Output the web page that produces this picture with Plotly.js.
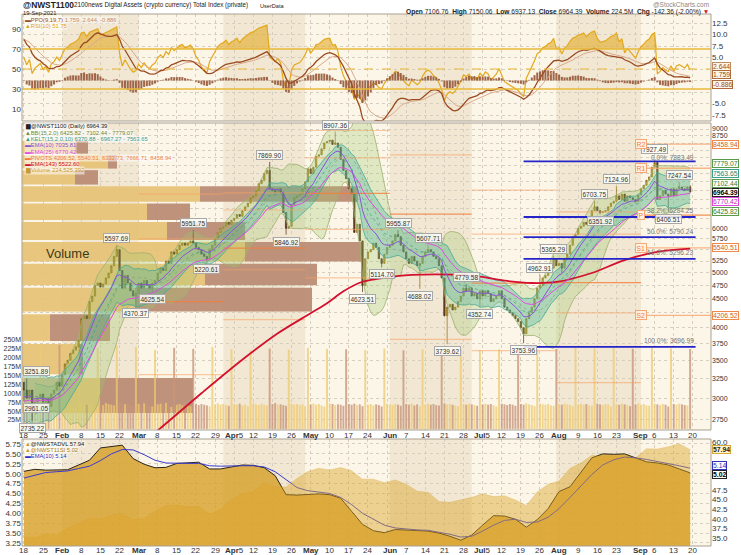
<!DOCTYPE html>
<html><head><meta charset="utf-8">
<script src="https://cdn.plot.ly/plotly-3.0.1.min.js"></script>
<style>html,body{margin:0;padding:0;background:#fff;}#chart{width:741px;height:555px;}</style>
</head><body><div id="chart"></div>
<script>
// ================= DATA =================
const firstDay = '2021-01-18';
const firstOpen = 3200;
const closeJan = [3100,3000,3100,2850,2950,3000,3050,2950,3000,2900,3050,3100,3200,3150];
const closeFeb = [3300,3450,3500,3600,3650,3700,3800,4150,4200,4150,4450,4550,4750,4800,4720,4780,4900,5000,5150,5350,5500,5050,4700,4950,4800,4650,4550,4600];
const closeMar = [4800,4700,4850,4750,4700,4800,4850,5000,5100,5050,5250,5200,5450,5400,5500,5600,5650,5600,5650,5700,5650,5550,5500,5400,5350,5300,5500,5600,5750,5900,6000];
const closeApr = [6050,6150,6100,6200,6250,6350,6300,6450,6550,6650,6800,6850,7000,7200,7300,7500,7600,7050,7000,6950,7050,6950,6400,6000,6050,6600,6800,6850,6900,7050];
const closeMay = [7250,7650,7500,7700,8050,8100,8300,8500,8550,8600,8450,8500,8350,7950,7600,7350,7050,6900,5900,6100,5700,4750,5300,5450,5500,5650,5550,5300,5200,5400,5550];
const closeJun = [5600,5700,5850,5800,5600,5450,5300,5200,5350,5250,5150,5200,5350,5450,5500,5450,5350,5300,5150,4900,4200,4350,4400,4300,4350,4450,4550,4700,4650,4700];
const closeJul = [4550,4600,4500,4650,4550,4650,4600,4450,4500,4550,4650,4500,4350,4300,4250,4200,4150,4100,4000,3900,4150,4250,4350,4500,4700,4750,4900,4950,5050,5100,5300];
const closeAug = [5150,5200,5100,5300,5400,5600,5800,5850,6000,6050,6150,6100,6300,6450,6550,6450,6400,6420,6450,6550,6650,6700,6850,6750,6900,6700,6850,6800,6750,6700,6874.48];
const closeSep = [7050,7150,7300,7400,7700,7850,6750,6850,7000,6900,6850,7050,6850,7050,7100,7050,7000,7106.76,6964.39];

// daily volume in millions (Mon..Sun rows)
const volumeM = [
 68,72,70,75,66,64,232, 70,66,74,69,71,63,236, 72,68,75,70,66,62,228, 74,70,68,73,69,65,226,
 71,67,73,70,68,66,234, 75,72,69,71,67,64,230, 70,66,72,68,65,63,222, 69,71,67,73,66,62,228,
 68,70,66,72,69,64,225, 71,67,70,68,66,63,230, 69,72,68,70,67,65,224, 70,68,71,66,69,64,221,
 72,69,67,71,68,66,226, 70,73,68,69,67,65,223, 71,68,70,67,69,64,228, 69,71,68,70,66,63,225,
 72,70,67,69,68,65,224, 70,68,71,67,69,64,222, 68,70,66,69,67,63,226, 71,69,67,70,68,65,221,
 70,68,71,66,69,64,224, 69,71,68,70,67,66,223, 72,69,70,68,66,64,225, 70,68,71,69,67,65,222,
 69,71,68,70,66,63,224, 71,69,67,70,68,65,226, 70,68,72,69,67,64,223, 71,69,68,70,66,65,225,
 70,68,71,69,67,64,228, 69,71,68,70,66,65,226, 71,69,67,70,68,63,227, 70,68,71,69,67,64,225,
 69,71,68,70,66,65,228, 71,69,67,70,68,63,226, 70,68,71,69,67,66,224.525392];

// labelled swing highs / lows
const hiDates = ['2021-01-19','2021-02-21','2021-03-21','2021-04-18','2021-05-12','2021-06-04','2021-06-15','2021-06-29','2021-07-26','2021-07-31','2021-08-15','2021-08-23','2021-09-06','2021-09-15'];
const hiVals  = [3251.89,5597.69,5951.75,7869.90,8907.36,5955.87,5607.71,4779.58,4962.91,5365.29,6703.75,7124.96,7927.49,7247.54];
const loDates = ['2021-01-18','2021-01-21','2021-02-28','2021-03-06','2021-03-26','2021-04-24','2021-05-22','2021-05-29','2021-06-12','2021-06-22','2021-07-04','2021-07-20','2021-08-17','2021-09-11'];
const loVals  = [2961.05,2735.22,4370.37,4625.54,5220.61,5846.92,4623.51,5114.70,4688.02,3739.62,4352.74,3753.96,6351.92,6406.51];
// unlabelled wick extremes
const wickHiDates = ['2021-09-19'];  const wickHiVals = [7150.06];
const wickLoDates = ['2021-08-03','2021-09-19']; const wickLoVals = [4998.75,6937.13];

// EMA(143)
const ema143Dates = ['2021-03-01','2021-03-08','2021-03-24','2021-04-09','2021-04-21','2021-05-03','2021-05-09','2021-05-15','2021-05-22','2021-05-28','2021-06-09','2021-06-25','2021-07-04','2021-07-14','2021-07-23','2021-08-01','2021-08-14','2021-08-26','2021-09-07','2021-09-19'];
const ema143Vals  = [2480,2630,3060,3540,3909,4242,4419,4640,4824,4885,4960,4965,4925,4840,4800,4820,5000,5270,5450,5522.60];

// Fibonacci retracement
const fibNames  = ['100.0%','61.8%','50.0%','38.2%','0.0%'];
const fibLevels = [3696.99,5296.23,5790.24,6284.25,7883.49];
const fibFrom = '2021-07-20', fibTo = '2021-09-21';

// volume-by-price zones (price edges) and up/down volume per zone (relative units)
const vbpEdges = [2800,3283,3767,4250,4733,5217,5700,6183,6667,7150,7633,8117,8600];
const vbpUp    = [78,56,28,113,183,223,145,125,178,53,86,53];
const vbpDown  = [93,5,60,177,112,117,78,43,158,23,9,13];

// indicator seeds (state before first visible bar)
const ppoFastSeed = 3017, ppoSlowSeed = 2750, ppoSignalSeed = 9.0;
const rsiGainSeed = 60, rsiLossSeed = 27;
const ema10Seed = 3000, ema25Seed = 2950, kelMidSeed = 3050, atrSeed = 150;

// lower panel, every 4th day from Jan 18
const advl  = [35.4,35.2,36.2,35.8,37.6,38.8,40.2,39.9,41.0,41.5,39.8,40.2,42.0,43.5,43.6,43.2,43.2,41.2,42.5,45.0,46.6,47.0,49.4,48.3,48.3,50.5,52.3,53.1,52.7,53.3,52.5,50.3,50.3,49.4,50.1,49.0,47.2,46.9,44.5,44.3,44.9,45.6,46.5,45.8,46.0,44.9,43.5,47.0,49.0,49.8,53.1,54.5,56.5,56.2,56.2,56.3,55.8,58.2,58.1,58.7,59.5,57.94];
const si11  = [5.06,5.11,5.09,5.09,5.10,5.22,5.34,5.65,5.68,5.72,5.38,5.24,5.15,5.16,5.26,5.27,5.29,5.12,5.12,5.17,5.22,5.21,5.15,4.95,4.47,4.46,4.48,4.49,4.47,4.38,4.05,3.72,3.56,3.51,3.59,3.58,3.56,3.55,3.50,3.42,3.32,3.45,3.70,3.94,3.93,3.85,3.65,3.84,4.12,4.55,4.67,5.05,5.40,5.50,5.49,5.50,5.40,5.30,5.27,5.22,5.12,5.02];
const siEma = [4.89,4.96,5.03,5.05,5.07,5.13,5.19,5.33,5.50,5.61,5.60,5.48,5.34,5.27,5.26,5.26,5.26,5.20,5.19,5.20,5.20,5.20,5.17,5.05,4.85,4.65,4.57,4.53,4.50,4.40,4.22,4.00,3.85,3.70,3.63,3.60,3.58,3.57,3.52,3.47,3.40,3.42,3.55,3.70,3.82,3.85,3.77,3.78,3.90,4.12,4.40,4.68,4.98,5.22,5.35,5.42,5.40,5.36,5.31,5.25,5.20,5.14];

// x tick labels
const tickDates  = ['2021-01-18','2021-01-25','2021-02-01','2021-02-08','2021-02-15','2021-02-22','2021-03-01','2021-03-08','2021-03-15','2021-03-22','2021-03-29','2021-04-05','2021-04-12','2021-04-19','2021-04-26','2021-05-03','2021-05-10','2021-05-17','2021-05-24','2021-06-01','2021-06-07','2021-06-14','2021-06-21','2021-06-28','2021-07-05','2021-07-12','2021-07-19','2021-07-26','2021-08-02','2021-08-09','2021-08-16','2021-08-23','2021-09-01','2021-09-06','2021-09-13','2021-09-20'];
const tickLabels = ['18','25','<b>Feb</b>','8','15','22','<b>Mar</b>','8','15','22','29','<b>Apr</b>5','12','19','26','<b>May</b>','10','17','24','<b>Jun</b>','7','14','21','28','<b>Jul</b>5','12','19','26','<b>Aug</b>','9','16','23','<b>Sep</b>','6','13','20'];

// ================= COMPUTATION =================
const F = 'Liberation Sans, Arial, sans-serif';
const DAY = 86400000;
const t0 = Date.parse(firstDay + 'T00:00:00Z');
const dayStr = i => new Date(t0 + i * DAY).toISOString().slice(0, 10);
const closes = [].concat(closeJan, closeFeb, closeMar, closeApr, closeMay, closeJun, closeJul, closeAug, closeSep);
const n = closes.length;
const dates = closes.map((_, i) => dayStr(i));
const opens = closes.map((c, i) => i === 0 ? firstOpen : closes[i - 1]);
const highs = closes.map((c, i) => Math.max(c, opens[i]));
const lows = closes.map((c, i) => Math.min(c, opens[i]));
[[hiDates, hiVals], [wickHiDates, wickHiVals]].forEach(([ds, vs]) => ds.forEach((d, k) => { const i = dates.indexOf(d); if (i >= 0) highs[i] = Math.max(highs[i], vs[k]); }));
[[loDates, loVals], [wickLoDates, wickLoVals]].forEach(([ds, vs]) => ds.forEach((d, k) => { const i = dates.indexOf(d); if (i >= 0) lows[i] = Math.min(lows[i], vs[k]); }));

function ema(arr, p, seed) { const k = 2 / (p + 1); let e = seed; return arr.map(v => (e = e + k * (v - e))); }
const ema10 = ema(closes, 10, ema10Seed);
const ema25 = ema(closes, 25, ema25Seed);

const bbX = [], bbU = [], bbM = [], bbL = [];
for (let i = 4; i < n; i++) {
  const w = closes.slice(Math.max(0, i - 14), i + 1);
  const m = w.reduce((a, b) => a + b, 0) / w.length;
  const sd = Math.sqrt(w.reduce((a, b) => a + (b - m) * (b - m), 0) / w.length);
  bbX.push(dates[i]); bbM.push(m); bbU.push(m + 2 * sd); bbL.push(m - 2 * sd);
}
const kM = ema(closes, 15, kelMidSeed);
let atr = atrSeed; const kU = [], kL = [];
closes.forEach((c, i) => {
  const pc = i ? closes[i - 1] : firstOpen;
  const tr = Math.max(highs[i] - lows[i], Math.abs(highs[i] - pc), Math.abs(lows[i] - pc));
  atr = (atr * 9 + tr) / 10; kU.push(kM[i] + 2 * atr); kL.push(kM[i] - 2 * atr);
});
const fast = ema(closes, 9, ppoFastSeed), slow = ema(closes, 19, ppoSlowSeed);
const ppo = fast.map((f, i) => 100 * (f - slow[i]) / slow[i]);
const sig = ema(ppo, 7, ppoSignalSeed);
const hist = ppo.map((p, i) => p - sig[i]);
let ag = rsiGainSeed, al = rsiLossSeed;
const rsi = closes.map((c, i) => { const ch = c - (i ? closes[i - 1] : firstOpen); ag = (ag * 9 + Math.max(ch, 0)) / 10; al = (al * 9 + Math.max(-ch, 0)) / 10; return 100 - 100 / (1 + ag / al); });

const xStart = '2021-01-17 06:30', xEnd = '2021-09-26 15:30';
const months = ['2021-02','2021-03','2021-04','2021-05','2021-06','2021-07','2021-08','2021-09'];
const piv = { R2: [], R1: [], P: [], S1: [], S2: [] }, pivX = [];
const curPiv = {};
for (let m = 1; m < months.length; m++) {
  const idx = dates.map((d, i) => d.startsWith(months[m - 1]) ? i : -1).filter(i => i >= 0);
  const H = Math.max(...idx.map(i => highs[i])), L = Math.min(...idx.map(i => lows[i])), C = closes[idx[idx.length - 1]];
  const P = (H + L + C) / 3;
  const lv = { R2: P + (H - L), R1: 2 * P - L, P: P, S1: 2 * P - H, S2: P - (H - L) };
  const x0 = months[m] + '-01', x1 = m + 1 < months.length ? months[m + 1] + '-01' : xEnd;
  if (m === months.length - 1) { Object.assign(curPiv, lv); curPiv.x0 = x0; curPiv.x1 = x1; }
  else { pivX.push(x0, x1, null); Object.keys(piv).forEach(k => piv[k].push(lv[k], lv[k], null)); }
}

const LOGLO = Math.log10(2634), LOGHI = Math.log10(9223);
const ppy = py => 1 - py / 555;
const ppx = px => (px - 22) / 689;
const xs = Date.parse('2021-01-17T06:30:00Z'), xe = Date.parse('2021-09-26T15:30:00Z');
const msPerUnit = (xe - xs) / 689;

// ================= TRACES =================
const traces = [];
const rsiTop = rsi.map(v => Math.max(v, 70));
traces.push({ x: dates, y: dates.map(() => 70), xaxis: 'x', yaxis: 'y', mode: 'lines', line: { width: 0 }, hoverinfo: 'skip' });
traces.push({ x: dates, y: rsiTop, xaxis: 'x', yaxis: 'y', mode: 'lines', line: { width: 0 }, fill: 'tonexty', fillcolor: 'rgba(226,172,40,0.6)', hoverinfo: 'skip' });
traces.push({ x: dates, y: rsi, xaxis: 'x', yaxis: 'y', mode: 'lines', line: { color: '#e3a81c', width: 1.2 } });
traces.push({ type: 'bar', x: dates, y: hist, xaxis: 'x', yaxis: 'y2', marker: { color: 'rgba(150,88,58,0.9)', line: { width: 0 } }, width: DAY * 0.75 });
traces.push({ x: dates, y: sig, xaxis: 'x', yaxis: 'y2', mode: 'lines', line: { color: '#d9a98c', width: 1 } });
traces.push({ x: dates, y: ppo, xaxis: 'x', yaxis: 'y2', mode: 'lines', line: { color: '#9b4a20', width: 1.3 } });

const vbpY = vbpUp.map((_, k) => (Math.log10(vbpEdges[k]) + Math.log10(vbpEdges[k + 1])) / 2);
const vbpW = vbpUp.map((_, k) => (Math.log10(vbpEdges[k + 1]) - Math.log10(vbpEdges[k])) * 0.9);
traces.push({ type: 'bar', orientation: 'h', y: vbpY, width: vbpW, x: vbpUp.map(v => v * msPerUnit), base: vbpUp.map(() => xs), xaxis: 'x2', yaxis: 'y3', marker: { color: '#e8c479', line: { width: 0 } }, opacity: 0.95 });
traces.push({ type: 'bar', orientation: 'h', y: vbpY, width: vbpW, x: vbpDown.map(v => v * msPerUnit), base: vbpUp.map(v => xs + v * msPerUnit), xaxis: 'x2', yaxis: 'y3', marker: { color: '#bc8e76', line: { width: 0 } }, opacity: 0.95 });
traces.push({ type: 'bar', x: dates, y: volumeM, xaxis: 'x2', yaxis: 'y4', width: DAY * 0.72,
  marker: { color: closes.map((c, i) => c >= opens[i] ? 'rgba(238,202,112,0.75)' : 'rgba(200,150,122,0.8)'), line: { width: 0 } } });
traces.push({ x: bbX, y: bbU, xaxis: 'x2', yaxis: 'y5', mode: 'lines', line: { color: '#9db070', width: 0.8 } });
traces.push({ x: bbX, y: bbL, xaxis: 'x2', yaxis: 'y5', mode: 'lines', line: { color: '#9db070', width: 0.8 }, fill: 'tonexty', fillcolor: 'rgba(160,200,110,0.30)' });
traces.push({ x: dates, y: kU, xaxis: 'x2', yaxis: 'y5', mode: 'lines', line: { color: '#48a893', width: 0.8 } });
traces.push({ x: dates, y: kL, xaxis: 'x2', yaxis: 'y5', mode: 'lines', line: { color: '#48a893', width: 0.8 }, fill: 'tonexty', fillcolor: 'rgba(70,180,160,0.33)' });
traces.push({ x: bbX, y: bbM, xaxis: 'x2', yaxis: 'y5', mode: 'lines', line: { color: '#8fa070', width: 0.7, dash: 'dot' } });
traces.push({ x: dates, y: kM, xaxis: 'x2', yaxis: 'y5', mode: 'lines', line: { color: '#3e9a86', width: 0.7, dash: 'dot' } });
['R2', 'R1', 'S1', 'S2'].forEach(k => traces.push({ x: pivX, y: piv[k], xaxis: 'x2', yaxis: 'y5', mode: 'lines', line: { color: 'rgba(246,160,100,0.55)', width: 1.2 } }));
traces.push({ x: pivX, y: piv.P, xaxis: 'x2', yaxis: 'y5', mode: 'lines', line: { color: 'rgba(242,128,60,0.8)', width: 1.3 } });
['R2', 'R1', 'P', 'S1', 'S2'].forEach(k => traces.push({ x: [curPiv.x0, curPiv.x1], y: [curPiv[k], curPiv[k]], xaxis: 'x2', yaxis: 'y5', mode: 'lines', line: { color: k === 'P' ? 'rgba(242,128,60,0.85)' : 'rgba(246,165,110,0.8)', width: 1.3 } }));
traces.push({ x: ema143Dates, y: ema143Vals, xaxis: 'x2', yaxis: 'y5', mode: 'lines', line: { color: '#d3102e', width: 1.8, shape: 'spline' } });
traces.push({ x: dates, y: ema25, xaxis: 'x2', yaxis: 'y5', mode: 'lines', line: { color: '#e24ae2', width: 1 } });
traces.push({ x: dates, y: ema10, xaxis: 'x2', yaxis: 'y5', mode: 'lines', line: { color: '#8c52d6', width: 1 } });
traces.push({ type: 'candlestick', x: dates, open: opens, high: highs, low: lows, close: closes, xaxis: 'x2', yaxis: 'y5', whiskerwidth: 0,
  increasing: { line: { color: '#8a6a12', width: 0.7 }, fillcolor: '#c9a22c' },
  decreasing: { line: { color: '#4a2c14', width: 0.7 }, fillcolor: '#6e4426' } });
const fibX = [], fibY = [];
fibLevels.forEach(v => { fibX.push(fibFrom, fibTo, null); fibY.push(v, v, null); });
traces.push({ x: fibX, y: fibY, xaxis: 'x2', yaxis: 'y5', mode: 'lines', line: { color: '#2424c8', width: 1.8 } });

const bDates = si11.map((_, k) => dayStr(k * 4));
traces.push({ x: bDates, y: si11, xaxis: 'x3', yaxis: 'y6', mode: 'lines', line: { color: '#2a2418', width: 1 }, fill: 'tozeroy', fillcolor: 'rgba(215,160,40,0.80)' });
traces.push({ x: bDates, y: siEma, xaxis: 'x3', yaxis: 'y6', mode: 'lines', line: { color: '#3a3ad0', width: 1 } });
traces.push({ x: bDates, y: advl, xaxis: 'x3', yaxis: 'y7', mode: 'lines', line: { color: 'rgba(215,160,40,0.5)', width: 0.5 }, fill: 'tozeroy', fillcolor: 'rgba(220,165,40,0.45)' });

// ================= LAYOUT =================
const mondays = [];
for (let i = -1; i < n + 8; i++) { const d = new Date(t0 + i * DAY); if (d.getUTCDay() === 1) mondays.push(dayStr(i)); }
const xbase = { type: 'date', range: [xStart, xEnd], tickvals: mondays, showticklabels: false, ticks: '', showgrid: true, gridcolor: '#d6cfc0', griddash: 'dot', gridwidth: 1, zeroline: false, showline: false, rangeslider: { visible: false } };
const tickF = { size: 8, color: '#333', family: F };
const dTop = [ppy(121), ppy(14)], dMain = [ppy(430), ppy(123)], dBot = [ppy(546), ppy(439)];
const range = (a, b, s) => { const r = []; for (let v = a; v <= b + 1e-9; v += s) r.push(+v.toFixed(4)); return r; };

const pricePx = v => 123 + (LOGHI - Math.log10(v)) / (LOGHI - LOGLO) * 307;
const ppoPx = v => 121 - (v + 8.8) / (14.46 + 8.8) * 107;
const adPx = v => 546 - (v - 33) / (60.7 - 33) * 107;
const siPx = v => 546 - (v - 3.174) / (5.876 - 3.174) * 107;
const tags = [
  ['y2', 2.644, '2.644', '#c08a60', '#fff6ea', '#9b4a20', 2],
  ['y2', 1.759, '1.759', '#b06a3a', '#fff6ea', '#9b4a20', -2],
  ['y2', -0.886, '-0.886', '#b06a3a', '#fff6ea', '#9b4a20', 0],
  ['y5', 8458.94, '8458.94', '#f08a4b', '#fff', '#d06020', 0],
  ['y5', 7779.07, '7779.07', '#5a9a4a', '#fff', '#3a7a2a', 1.5],
  ['y5', 7563.65, '7563.65', '#3aa08a', '#fff', '#2a806a', -1.5],
  ['y5', 7102.44, '7102.44', '#5a9a4a', '#fff', '#3a7a2a', 3],
  ['y5', 6964.39, '<b>6964.39</b>', '#222', '#fff', '#000', -1],
  ['y5', 6770.42, '6770.42', '#e048e0', '#fff', '#c020c0', -2.5],
  ['y5', 6425.82, '6425.82', '#5a9a4a', '#fff', '#3a7a2a', 0],
  ['y5', 5540.51, '5540.51', '#f08a4b', '#fff', '#d06020', 0],
  ['y5', 4206.52, '4206.52', '#f08a4b', '#fff', '#d06020', 0],
  ['y7', 57.94, '<b>57.94</b>', '#d8a838', '#fff2cc', '#222', 0],
  ['y6', 5.14, '5.14', '#3030c0', '#fff', '#3030c0', 3],
  ['y6', 5.02, '<b>5.02</b>', '#222', '#fff', '#000', -2]];
const tagPx = t => (t[0] === 'y2' ? ppoPx(t[1]) : t[0] === 'y5' ? pricePx(t[1]) : t[0] === 'y7' ? adPx(t[1]) : siPx(t[1])) - t[6];
const tagRows = tags.map(tagPx);
const freeLabel = (px, txt) => tagRows.some(r => Math.abs(r - px) < 7.5) ? '' : txt;

const priceTicks = range(2750, 9000, 250);
const ppoTicks = range(-7.5, 12.5, 2.5);
const volTicks = range(25, 250, 25);
const siTicks = range(3.25, 5.75, 0.25);
const adTicks = range(35, 60, 2.5);

const layout = {
  width: 741, height: 555, margin: { l: 22, r: 30, t: 0, b: 0, pad: 0 },
  paper_bgcolor: '#ffffff', plot_bgcolor: '#fcf6e8', showlegend: false, hovermode: false, barmode: 'overlay',
  font: { family: F, size: 8, color: '#333' },
  xaxis: Object.assign({}, xbase, { anchor: 'y' }),
  xaxis2: Object.assign({}, xbase, { anchor: 'y3' }),
  xaxis3: Object.assign({}, xbase, { anchor: 'y6' }),
  yaxis: { domain: dTop, range: [-2, 105], side: 'left', tickvals: [10, 30, 50, 70, 90], tickfont: tickF, ticks: '', showgrid: false, zeroline: false },
  yaxis2: { overlaying: 'y', side: 'right', range: [-8.8, 14.46], tickvals: ppoTicks, ticktext: ppoTicks.map(v => freeLabel(ppoPx(v), v.toFixed(1))), tickfont: tickF, ticks: '', showgrid: true, gridcolor: '#d6cfc0', griddash: 'dot', zeroline: false },
  yaxis3: { domain: dMain, range: [LOGLO, LOGHI], visible: false, anchor: 'x2' },
  yaxis4: { overlaying: 'y3', side: 'left', range: [-3.1, 860], tickvals: volTicks, ticktext: volTicks.map(v => v + 'M'), tickfont: { size: 7, color: '#333', family: F }, ticks: '', showgrid: false, zeroline: false },
  yaxis5: { overlaying: 'y3', side: 'right', type: 'log', range: [LOGLO, LOGHI], tickvals: priceTicks, ticktext: priceTicks.map(v => freeLabel(pricePx(v), String(v))), tickfont: { size: 7, color: '#333', family: F }, ticks: '', showgrid: true, gridcolor: '#d6cfc0', griddash: 'dot', zeroline: false },
  yaxis6: { domain: dBot, anchor: 'x3', range: [3.174, 5.876], side: 'left', tickvals: siTicks, ticktext: siTicks.map(v => v.toFixed(2)), tickfont: tickF, ticks: '', showgrid: true, gridcolor: '#d6cfc0', griddash: 'dot', zeroline: false },
  yaxis7: { overlaying: 'y6', side: 'right', range: [33.0, 60.7], tickvals: adTicks, ticktext: adTicks.map(v => freeLabel(adPx(v), v.toFixed(1))), tickfont: tickF, ticks: '', showgrid: false, zeroline: false },
  shapes: [], annotations: []
};

const shade = [['2021-02-01', '2021-03-01'], ['2021-04-01', '2021-05-01'], ['2021-06-01', '2021-07-01'], ['2021-08-01', '2021-09-01']];
[['x', dTop], ['x2', dMain], ['x3', dBot]].forEach(([xr, dom]) => shade.forEach(([a, b]) =>
  layout.shapes.push({ type: 'rect', xref: xr, yref: 'paper', x0: a, x1: b, y0: dom[0], y1: dom[1], fillcolor: '#f1e7d2', line: { width: 0 }, layer: 'below' })));
[[70, 'solid', 1.6], [30, 'solid', 1.6], [50, 'dash', 1.2]].forEach(([v, d, w]) =>
  layout.shapes.push({ type: 'line', xref: 'paper', yref: 'y', x0: 0, x1: 1, y0: v, y1: v, line: { color: '#e9b83a', width: w, dash: d } }));
[dTop, dMain, dBot].forEach(dom => layout.shapes.push({ type: 'rect', xref: 'paper', yref: 'paper', x0: 0, x1: 1, y0: dom[0], y1: dom[1], line: { color: '#a9a191', width: 1 }, fillcolor: 'rgba(0,0,0,0)', layer: 'above' }));

const A = layout.annotations;
const txt = (px, py, text, size, opts = {}) => A.push(Object.assign({ xref: 'paper', yref: 'paper', x: ppx(px), y: ppy(py), xanchor: 'left', yanchor: 'middle', text, showarrow: false, font: { size, family: F, color: '#222' } }, opts));

tickDates.forEach((d, k) => {
  [['x2', 435], ['x3', 550]].forEach(([xr, py]) => A.push({ xref: xr, yref: 'paper', x: d, y: ppy(py), xanchor: 'center', yanchor: 'middle', text: tickLabels[k], showarrow: false, font: { size: 8, family: F, color: '#333' } }));
});

// header
txt(21, 4.8, '<b>@NWST1100</b>', 8.4, { font: { size: 8.4, family: F, color: '#222' } });
txt(72, 5, '2100news Digital Assets (crypto currency) Total Index (private)', 6.3, { font: { size: 6.3, family: F, color: '#222' } });
txt(258, 5.5, 'UserData', 5.6, { font: { size: 5.6, family: F, color: '#222' } });
txt(21, 12.6, '19-Sep-2021', 5.8, { font: { size: 5.8, family: F, color: '#222' } });
A.push({ xref: 'paper', yref: 'paper', x: 1, y: ppy(4.5), xanchor: 'right', yanchor: 'middle', text: '@StockCharts.com', showarrow: false, font: { size: 6.5, family: F, color: '#888' } });
A.push({ xref: 'paper', yref: 'paper', x: 1, y: ppy(12), xanchor: 'right', yanchor: 'middle', showarrow: false, font: { size: 6.6, family: F, color: '#222' },
  text: '<b>Open</b> 7106.76  <b>High</b> 7150.06  <b>Low</b> 6937.13  <b>Close</b> 6964.39  <b>Volume</b> 224.5M  <b>Chg</b> -142.36 (-2.00%) <span style="color:#d02020">▼</span>' });

// panel legends
txt(24, 19.8, '<span style="color:#9b4a20">▬PPO(9,19,7)</span> <span style="color:#c98a60">1.759, 2.644, -0.886</span>', 5.8, { bgcolor: 'rgba(255,255,255,0.5)', borderpad: 0 });
txt(24, 26.2, '<span style="color:#e0a020">▲RSI(10) 51.75</span>', 5.8, { bgcolor: 'rgba(255,255,255,0.5)', borderpad: 0 });
const mainLeg = [
  ['#222', '▆@NWST1100 (Daily) 6964.39'],
  ['#6c8c3c', '▲BB(15,2.0) 6425.82 - 7102.44 - 7779.07'],
  ['#3a9a8c', '▲KELT(15,2.0,10) 6370.88 - 6967.27 - 7563.65'],
  ['#8a50d0', '▬EMA(10) 7035.81'],
  ['#e048e0', '▬EMA(25) 6770.42'],
  ['#f08040', '▬PIVOTS 4206.52, 5540.51, 6332.73, 7666.71, 8458.94'],
  ['#d01030', '▬EMA(143) 5522.60'],
  ['#c89a30', '▆Volume 224,525,392']];
mainLeg.forEach(([c, t], k) => txt(24, 126.5 + k * 6.3, '<span style="color:' + c + '">' + t + '</span>', 5.8, { bgcolor: 'rgba(255,255,255,0.55)', borderpad: 0 }));
txt(24, 443.5, '<span style="color:#c89a30">▲</span>@NWSTADVL 57.94', 5.8, { bgcolor: 'rgba(255,255,255,0.45)', borderpad: 0 });
txt(24, 449.8, '<span style="color:#c89a30">▲</span><span style="color:#b08020">@NWST11SI 5.02</span>', 5.8, { bgcolor: 'rgba(255,255,255,0.45)', borderpad: 0 });
txt(24, 456.1, '<span style="color:#3030c0">▬EMA(10) 5.14</span>', 5.8, { bgcolor: 'rgba(255,255,255,0.45)', borderpad: 0 });
txt(44, 253, 'Volume', 13, { font: { size: 13, family: F, color: '#3b3a18' } });

// swing labels (labels at the very left edge start at the plot border)
const lab = (d, v, up) => {
  const edge = d < '2021-01-20';
  const lift = v === 7927.49 ? 11 : 7;
  A.push({ xref: 'x2', yref: 'y5', x: edge ? xStart : d, y: Math.log10(v), yshift: up ? lift : -lift, xanchor: edge ? 'left' : 'center', xshift: edge ? 1 : 0, yanchor: 'middle', text: v.toFixed(2), showarrow: false,
    font: { size: 6.5, family: F, color: '#333' }, bgcolor: 'rgba(252,252,246,0.85)', bordercolor: '#a8a8a8', borderwidth: 1, borderpad: 0.5 });
};
hiDates.forEach((d, k) => lab(d, hiVals[k], true));
loDates.forEach((d, k) => lab(d, loVals[k], false));
fibLevels.forEach((v, k) => A.push({ xref: 'x2', yref: 'y5', x: fibTo, y: Math.log10(v), yshift: k === 4 ? 3.5 : 6, xanchor: 'right', yanchor: 'middle', text: fibNames[k] + ': ' + v.toFixed(2), showarrow: false, font: { size: 6.6, family: F, color: '#777' } }));
['R2', 'R1', 'P', 'S1', 'S2'].forEach(k => A.push({ xref: 'x2', yref: 'y5', x: curPiv.x0, y: Math.log10(curPiv[k]), xanchor: 'center', yanchor: 'middle', text: k, showarrow: false,
  font: { size: 6.8, family: F, color: '#f0803c' }, bgcolor: '#fff1e2', bordercolor: '#f5a672', borderwidth: 1, borderpad: 0.5 }));

tags.forEach(t => A.push({ xref: 'paper', x: 1, xanchor: 'left', xshift: 1, yref: t[0], y: t[0] === 'y5' ? Math.log10(t[1]) : t[1], yshift: t[6], yanchor: 'middle', text: t[2], showarrow: false,
  font: { size: 6.8, family: F, color: t[5] }, bgcolor: t[4], bordercolor: t[3], borderwidth: 1, borderpad: 0 }));

Plotly.newPlot('chart', traces, layout, { staticPlot: true, displayModeBar: false });
</script>
</body></html>
